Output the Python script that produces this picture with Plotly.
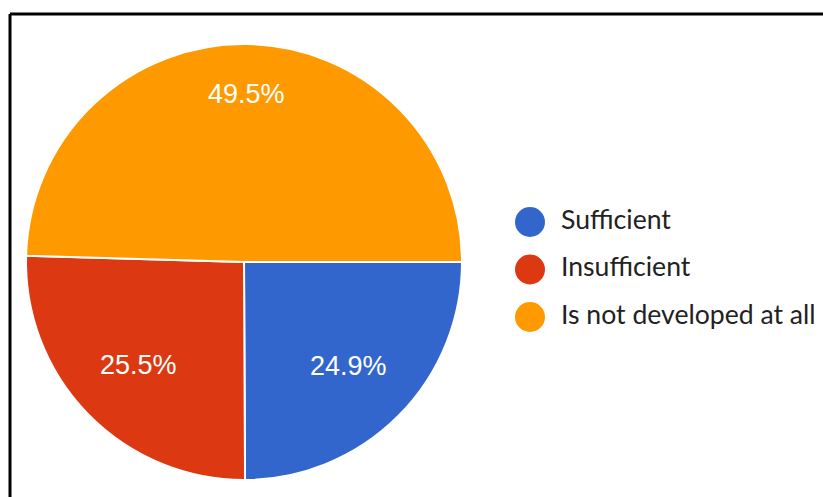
import math
import plotly.graph_objects as go

categories = ["Sufficient", "Insufficient", "Is not developed at all"]
values = [24.9, 25.5, 49.5]
colors = ["#3366CC", "#DC3912", "#FF9900"]

W, H = 823, 497

# pie geometry (pixels)
PX0, PX1, PY0, PY1 = 26, 462, 44, 480
CX, CY = (PX0 + PX1) / 2, (PY0 + PY1) / 2
R = (PX1 - PX0) / 2
START = 90  # degrees clockwise from 12 o'clock

fig = go.Figure()

fig.add_trace(go.Pie(
    labels=categories,
    values=values,
    sort=False,
    direction="clockwise",
    rotation=START,
    marker=dict(colors=colors, line=dict(color="white", width=2)),
    textinfo="none",
    domain=dict(x=[PX0 / W, PX1 / W], y=[1 - PY1 / H, 1 - PY0 / H]),
    showlegend=False,
    hoverinfo="label+percent",
))

# slice labels placed Google-Charts style: far corner of text box at fixed radius
total = sum(values)
box_w, box_h = 80, 22
far = 0.845 * R
annotations = []
acc = 0.0
for v in values:
    mid = START + (acc + v / 2) / total * 360
    acc += v
    a = math.radians(mid)
    ux, uy = math.sin(a), -math.cos(a)
    sx = math.copysign(box_w / 2, ux)
    sy = math.copysign(box_h / 2, uy)
    us = ux * sx + uy * sy
    t = -us + math.sqrt(us * us - (sx * sx + sy * sy) + far * far)
    px, py = CX + t * ux, CY + t * uy
    annotations.append(dict(
        x=px / W, y=1 - py / H, xref="paper", yref="paper",
        text=f"{v:.1f}%", showarrow=False, xanchor="center", yanchor="middle",
        font=dict(family="Liberation Sans, Arial, sans-serif", size=27, color="white"),
    ))

# custom legend with large circular markers
idx = list(range(len(categories)))
fig.add_trace(go.Scatter(
    x=[0] * len(categories), y=idx, mode="markers",
    marker=dict(size=30, color=colors),
    xaxis="x", yaxis="y", showlegend=False, hoverinfo="skip",
    cliponaxis=False,
))
fig.add_trace(go.Scatter(
    x=[31] * len(categories), y=idx, mode="text", text=categories,
    textposition="middle right",
    textfont=dict(family="Lato, Liberation Sans, sans-serif", size=26.6, color="#222222"),
    xaxis="x", yaxis="y", showlegend=False, hoverinfo="skip",
    cliponaxis=False,
))

fig.update_layout(
    width=W, height=H,
    margin=dict(l=0, r=0, t=0, b=0),
    paper_bgcolor="white", plot_bgcolor="rgba(0,0,0,0)",
    xaxis=dict(domain=[530 / W, 1], range=[0, W - 530], visible=False, fixedrange=True),
    yaxis=dict(domain=[0, 1], range=[(H - 222) / 47.5, -222 / 47.5], visible=False, fixedrange=True),
    annotations=annotations,
    shapes=[
        dict(type="line", xref="paper", yref="paper", x0=10 / W, x1=1, y0=1 - 14 / H, y1=1 - 14 / H,
             line=dict(color="black", width=3)),
        dict(type="line", xref="paper", yref="paper", x0=10 / W, x1=10 / W, y0=0, y1=1 - 14 / H,
             line=dict(color="black", width=3)),
    ],
)

fig.write_html("out.html")
